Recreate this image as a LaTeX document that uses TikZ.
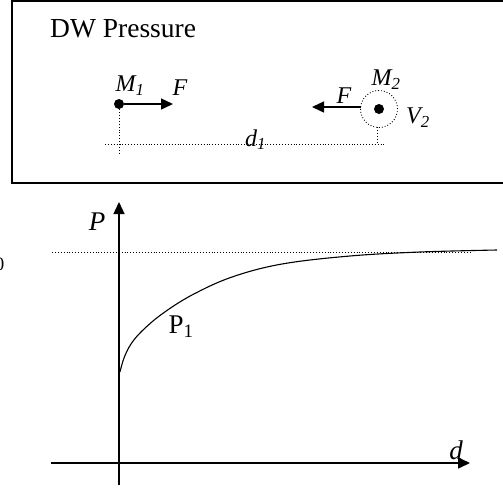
\documentclass[tikz,border=0pt]{standalone}
\usepackage{fontspec}
\setmainfont{Liberation Serif}
\usetikzlibrary{arrows.meta,positioning}

\begin{document}
\begin{tikzpicture}[x=1pt,y=-1pt,>={Triangle[length=12pt,width=11pt]},
  dotline/.style={dotted,line width=0.9pt},
  force/.style={->,line width=1.4pt},
  ball/.style={circle,fill,inner sep=0pt,minimum size=10pt},
  lab/.style={font=\fontsize{24}{26}\selectfont\itshape,inner sep=0pt},
  axislab/.style={font=\fontsize{27}{30}\selectfont,inner sep=0pt}]
  \useasboundingbox (0,0) rectangle (503,488);
  % pressure panel
  \draw[line width=1.4pt] (508,1) -- (12,1) -- (12,183) -- (508,183);
  \node[anchor=base west,font=\fontsize{27.5}{30}\selectfont,inner sep=0pt] (title) at (50,37) {DW Pressure};
  \node[ball] (m1) at (119,104) {};
  \node[ball] (m2) at (379,109) {};
  \node[circle,draw,dotline,minimum size=37pt,inner sep=0pt] (v2) at (379,109) {};
  \node[lab] (m1lab) at (130,86) {M\textsubscript{1}};
  \node[lab] (m2lab) at (386,80) {M\textsubscript{2}};
  \node[lab] (v2lab) at (418,118) {V\textsubscript{2}};
  \coordinate (f1tip) at (173,104);
  \coordinate (f2tail) at (361,107);
  \coordinate (f2tip) at (312,107);
  \draw[force] (m1.east) -- (f1tip);
  \draw[force] (f2tail) -- (f2tip);
  \node[lab] (f1lab) at (180,88) {F};
  \node[lab] (f2lab) at (344,96) {F};
  % distance
  \coordinate (d1left) at (105,144);
  \coordinate (d1right) at (386,144);
  \coordinate (m1foot) at (119,153);
  \coordinate (m2foot) at (377,144);
  \draw[dotline] (m1.south) -- (m1foot);
  \draw[dotline] (377,127) -- (m2foot);
  \draw[dotline] (d1left) -- (d1right);
  \node[lab,anchor=base west] (d1lab) at (245,146) {d\textsubscript{1}};
  % graph
  \coordinate (porig) at (119,485);
  \coordinate (ptop) at (119,202);
  \coordinate (dorig) at (51,463);
  \coordinate (dend) at (470,463);
  \draw[force] (porig) -- (ptop);
  \draw[force] (dorig) -- (dend);
  \node[axislab,font=\fontsize{27}{30}\selectfont\itshape] (plab) at (97,222) {P};
  \node[axislab,font=\fontsize{27}{30}\selectfont\itshape] (dlab) at (456,450) {d};
  \draw[dotline] (52,252) -- (470,252);
  \node[axislab,anchor=east] (p0lab) at (5,260) {P\textsubscript{0}};
  \draw[line width=1.1pt] plot[smooth,tension=0.6] coordinates {(120,372) (124,358) (131,344) (142,331) (162,314) (192,295) (232,277) (282,264) (350,256) (420,252) (497,250)};
  \node[axislab] (p1lab) at (181,327) {P\textsubscript{1}};
\end{tikzpicture}
\end{document}
